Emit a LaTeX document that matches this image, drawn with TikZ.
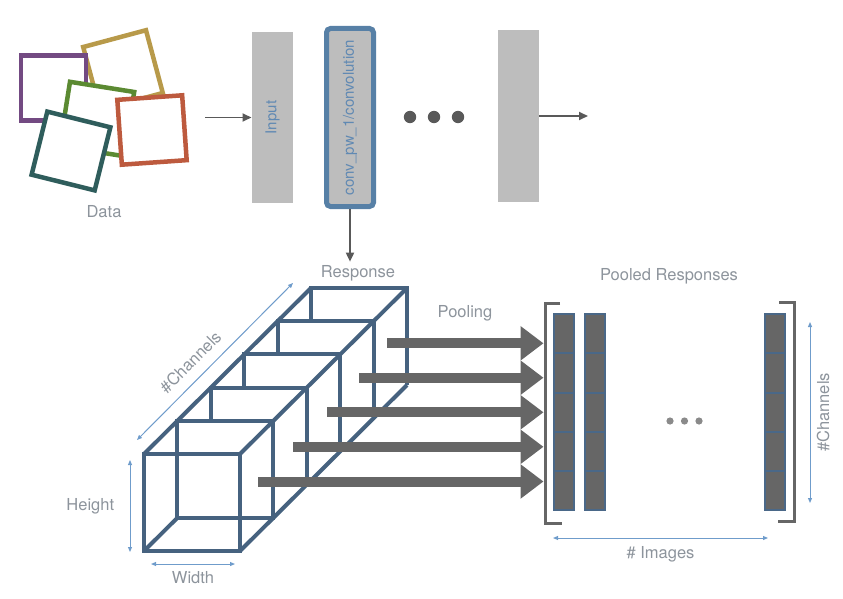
\documentclass[tikz,border=0pt]{standalone}
\usepackage{fontspec}
\setmainfont{TeX Gyre Heros}
\usetikzlibrary{arrows.meta}

\definecolor{labelgray}{HTML}{8D949C}
\definecolor{layerblue}{HTML}{6089B3}
\definecolor{layergray}{HTML}{BDBDBD}
\definecolor{convblue}{HTML}{5780A6}
\definecolor{flowgray}{HTML}{595959}
\definecolor{poolgray}{HTML}{666666}
\definecolor{dotgray}{HTML}{8A8A8A}
\definecolor{cellblue}{HTML}{4A6888}
\definecolor{cubeblue}{HTML}{46627F}
\definecolor{dimblue}{HTML}{6F9CCB}
\definecolor{datgold}{HTML}{B89A4A}
\definecolor{datpurple}{HTML}{734A82}
\definecolor{datgreen}{HTML}{5B8A32}
\definecolor{datred}{HTML}{BD5A3E}
\definecolor{datteal}{HTML}{2F5D5C}

\begin{document}
\begin{tikzpicture}[x=1pt,y=-1pt,>={Triangle[length=9pt,width=8pt]},
  lbl/.style={text=labelgray,font=\fontsize{16.5}{19}\selectfont},
  layer/.style={fill=layergray,inner sep=0pt},
  layertext/.style={text=layerblue,rotate=90,font=\fontsize{15}{17}\selectfont},
  flow/.style={->,draw=flowgray,line width=1.8pt},
  sample/.style={fill=white,line width=4.5pt,minimum size=65pt,inner sep=0pt},
  cube/.style={draw=cubeblue,line width=4pt},
  pool/.style={-{Triangle[length=23pt,width=33pt]},draw=poolgray,line width=10pt},
  cell/.style={fill=poolgray,draw=cellblue,line width=2pt,minimum width=20pt,
    minimum height=39.1pt,inner sep=0pt,outer sep=0pt},
  bracket/.style={draw=poolgray,line width=3pt},
  dim/.style={{Triangle[length=5pt,width=4pt]}-{Triangle[length=5pt,width=4pt]},
    draw=dimblue,line width=1pt}]
\useasboundingbox (0,0) rectangle (843,599);

% input images
\foreach \col/\cx/\cy/\ang [count=\i] in {datgold/123/70/15, datpurple/53.5/88/0,
    datgreen/97/119/-9, datred/152/130/4, datteal/71/151/-14}
  \node[sample,draw=\col,rotate=\ang] (img\i) at (\cx,\cy) {};
\node[lbl] (data) at (104,212) {Data};

% network
\node[layer,minimum width=41.6pt,minimum height=171pt] (input) at (272.5,117.5) {};
\node[layertext] at (input) {Input};
\node[layer,draw=convblue,line width=5pt,rounded corners=4pt,
  minimum width=47pt,minimum height=178pt] (conv) at (350,117.5) {};
\node[layertext] at (conv) {conv\_pw\_1/convolution};
\foreach \x in {410,434,458}
  \fill[flowgray] (\x,117) circle (6.2pt);
\node[layer,minimum width=41pt,minimum height=172pt] (last) at (518.5,116) {};

\coordinate (datout) at (205,117.5);
\coordinate (netout) at (588,116);
\draw[flow] (datout) -- (input);
\draw[flow] (last) -- (netout);

% response tensor
\node[lbl] (resp) at (358,273) {Response};
\draw[flow] (conv.south) -- (conv.south |- resp.north);

\begin{scope}[cube]
  \draw (144,454) rectangle (240,551);
  \draw (177.4,420.8) rectangle (273.4,517.8);
  \draw (144,551) -- (177.4,517.8);
  \draw (144,454) -- (311,288) (240,454) -- (407,288) (240,551) -- (407,385);
  \foreach \k in {2,...,5}
    \draw ({144+33.4*\k},{487.2-33.2*\k}) -- ++(0,-33.2) -- ++(96,0) -- ++(0,97);
\end{scope}

\draw[dim] (137,440) -- (293,283) node[lbl,pos=0.42,sloped,above=7pt] {\#Channels};
\draw[dim] (130,460) -- (130,552) node[lbl,midway,left=12pt] {Height};
\draw[dim] (151,564) -- (235,564) node[lbl,midway,below=4pt] {Width};

% pooling
\node[lbl] (pooling) at (465,313) {Pooling};
\foreach \x/\y [count=\i] in {387/343.3, 359/377.7, 327/412.3, 293/446.8, 258/481.5} {
  \coordinate (pin\i) at (\x,\y);
  \coordinate (pout\i) at (543.5,\y);
  \draw[pool] (pin\i) -- (pout\i);
}

% pooled responses
\node[lbl] (pooled) at (669,276) {Pooled Responses};
\foreach \cx [count=\c] in {564.2,595,774.5}
  \foreach \j in {0,...,4}
    \node[cell] (cell\c-\j) at ({\cx},{333.9+39.1*\j}) {};
\draw[bracket] (560,303) -- (545.5,303) -- (545.5,523) -- (562,523);
\draw[bracket] (779,302) -- (794,302) -- (794,521) -- (778,521);
\foreach \x in {670,684.5,699}
  \fill[dotgray] (\x,421) circle (3.6pt);

\draw[dim] (553,538) -- (768,538) node[lbl,midway,below=5pt] {\# Images};
\draw[dim] (810,322) -- (810,503);
\node[lbl,rotate=90] (chanlbl) at (823,412.5) {\#Channels};
\end{tikzpicture}
\end{document}
